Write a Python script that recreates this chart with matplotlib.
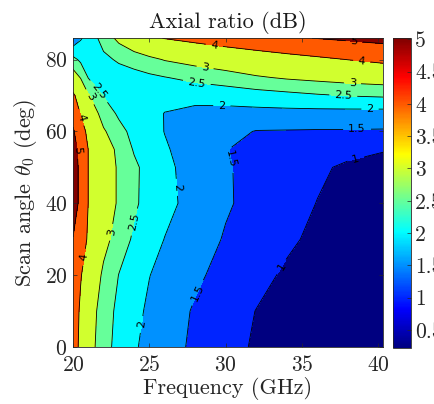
import numpy as np
import matplotlib.pyplot as plt
from matplotlib.colors import LinearSegmentedColormap, Normalize
from matplotlib.cm import ScalarMappable

plt.rcParams['font.family'] = 'serif'
plt.rcParams['font.serif'] = ['cmr10']
plt.rcParams['mathtext.fontset'] = 'cm'
plt.rcParams['axes.formatter.use_mathtext'] = True

# frequency grid (GHz) and scan angle grid (deg)
freq = [20, 20.5, 21, 22, 23, 24, 25, 26, 28, 30, 32, 34, 36, 38, 40.5]
angle = [0, 10, 20, 30, 40, 50, 55, 60, 65, 70, 75, 80, 86]

# axial ratio (dB), one row per scan angle
ar_db = [
    [4.40, 3.81, 3.26, 2.68, 2.34, 2.05, 1.87, 1.70, 1.41, 1.17, 0.94, 0.70, 0.50, 0.35, 0.22],
    [4.45, 3.88, 3.34, 2.72, 2.39, 2.13, 1.92, 1.75, 1.45, 1.22, 0.99, 0.75, 0.55, 0.40, 0.26],
    [4.55, 4.05, 3.61, 2.88, 2.49, 2.25, 2.01, 1.86, 1.58, 1.35, 1.14, 0.93, 0.70, 0.52, 0.35],
    [4.98, 4.41, 3.90, 3.20, 2.74, 2.43, 2.20, 1.99, 1.72, 1.46, 1.27, 1.08, 0.90, 0.70, 0.50],
    [5.30, 4.85, 3.99, 3.42, 2.91, 2.57, 2.34, 2.14, 1.82, 1.55, 1.36, 1.17, 0.99, 0.80, 0.60],
    [5.30, 4.85, 3.99, 3.42, 2.91, 2.59, 2.33, 2.11, 1.80, 1.54, 1.37, 1.22, 1.07, 0.93, 0.85],
    [5.25, 4.80, 3.99, 3.38, 2.84, 2.46, 2.25, 2.05, 1.77, 1.51, 1.41, 1.32, 1.23, 1.13, 1.02],
    [5.12, 4.37, 3.80, 3.07, 2.64, 2.37, 2.17, 1.99, 1.81, 1.64, 1.48, 1.47, 1.46, 1.46, 1.45],
    [4.60, 3.96, 3.48, 2.75, 2.43, 2.28, 2.13, 1.99, 1.88, 1.85, 1.85, 1.85, 1.84, 1.83, 1.82],
    [4.14, 3.60, 3.05, 2.48, 2.30, 2.20, 2.15, 2.13, 2.15, 2.20, 2.28, 2.36, 2.45, 2.52, 2.57],
    [3.30, 2.97, 2.48, 2.30, 2.25, 2.30, 2.40, 2.48, 2.64, 2.77, 2.94, 3.06, 3.14, 3.22, 3.30],
    [2.65, 2.40, 2.30, 2.38, 2.57, 2.73, 2.87, 3.03, 3.20, 3.36, 3.52, 3.68, 3.84, 4.01, 4.20],
    [1.60, 1.95, 2.18, 2.70, 3.14, 3.46, 3.78, 4.03, 4.23, 4.44, 4.64, 4.85, 5.03, 5.15, 5.30],
]

levels = [1, 1.5, 2, 2.5, 3, 4, 5]
cbar_ticks = [0.5, 1, 1.5, 2, 2.5, 3, 3.5, 4, 4.5, 5]
c_min, c_max = 0.22, 5.02

# where the inline labels sit (freq, angle)
label_pos = [(38.4, 83.9), (29.2, 82.2), (38.9, 79.2), (28.6, 76.4), (38.3, 73.3),
             (28.1, 73.3), (37.7, 70.0), (29.75, 67.8), (39.45, 66.1), (38.6, 61.1),
             (30.1, 52.0), (38.5, 52.8), (21.6, 70.8), (21.0, 69.4), (20.6, 64.0),
             (20.1, 54.7), (26.7, 44.4), (24.1, 34.7), (22.4, 32.0), (20.7, 25.0),
             (33.7, 22.2), (28.05, 15.3), (24.3, 6.4)]

# matlab style jet
jet_m = LinearSegmentedColormap('jet_m', {
    'red': [(0, 0, 0), (0.375, 0, 0), (0.625, 1, 1), (0.875, 1, 1), (1, 0.5, 0.5)],
    'green': [(0, 0, 0), (0.125, 0, 0), (0.375, 1, 1), (0.625, 1, 1), (0.875, 0, 0), (1, 0, 0)],
    'blue': [(0, 0.5, 0.5), (0.125, 1, 1), (0.375, 1, 1), (0.625, 0, 0), (1, 0, 0)]})
norm = Normalize(c_min, c_max)
fill_colors = [jet_m(norm(c_min))] + [jet_m(norm(l)) for l in levels]

fig = plt.figure(figsize=(4.34, 4.04), dpi=100)
ax = fig.add_axes([73/434, 57/404, 310/434, 309/404])

F, T = np.meshgrid(freq, angle)
Z = np.array(ar_db)
ax.contourf(F, T, Z, levels=[0] + levels + [10], colors=fill_colors)
cs = ax.contour(F, T, Z, levels=levels, colors='k', linewidths=0.6)
with plt.rc_context({'font.family': 'DejaVu Sans'}):
    ax.clabel(cs, manual=label_pos, fontsize=8, fmt='%g', inline=True)

ax.set_xlim(20, 40.3)
ax.set_ylim(0, 86)
ax.set_xticks([20, 25, 30, 35, 40])
ax.set_yticks([0, 20, 40, 60, 80])
ax.tick_params(direction='in', top=True, right=True, length=3, width=0.5,
               labelsize=15.5, pad=4, colors='0.15')
ax.tick_params(axis='x', pad=6)
for s in ax.spines.values():
    s.set_linewidth(0.6)
    s.set_color('0.15')
ax.set_xlabel('Frequency (GHz)', fontsize=16, color='0.15', labelpad=1)
ax.set_ylabel(r'Scan angle $\theta_0$ (deg)', fontsize=16, color='0.15')
ax.set_title('Axial ratio (dB)', fontsize=16, color='0.1', pad=7)

cax = fig.add_axes([393/434, 56/404, 18/434, 310/404])
cb = fig.colorbar(ScalarMappable(norm=norm, cmap=jet_m), cax=cax,
                  ticks=cbar_ticks, format='%g')
cax.tick_params(direction='in', length=3, width=0.5, labelsize=15.5, pad=3,
                colors='0.15')
cb.outline.set_linewidth(0.6)
cb.outline.set_edgecolor('0.15')

fig.savefig('out.png', dpi=100)
